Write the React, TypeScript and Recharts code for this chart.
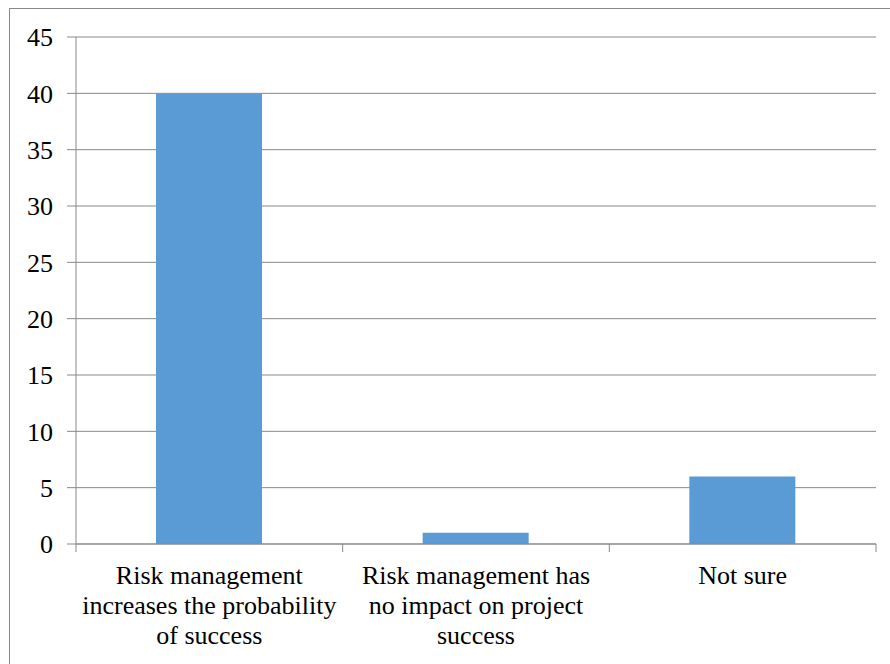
import {Bar, BarChart, CartesianGrid, XAxis, YAxis} from "recharts";
import {CSSProperties, FC} from "react";

// category labels, broken into the lines shown under the axis
const categoryLines = [
    ["Risk management", "increases the probability", "of success"],
    ["Risk management has", "no impact on project", "success"],
    ["Not sure"],
];
const categories = categoryLines.map(l => l.join(" "));
const responses = [40, 1, 6];
const yTicks = [0, 5, 10, 15, 20, 25, 30, 35, 40, 45];

const chartData = categories.map((name, i) => ({name, value: responses[i]}));

const W = 890;
const H = 664;
const margin = {top: 37, right: 14, left: 0, bottom: 0};
const xAxisHeight = 120;
const yAxisWidth = 76;
const bandWidth = (W - margin.left - margin.right - yAxisWidth) / categories.length;
const gray = "#898989";
const font = "'Liberation Serif', 'Times New Roman', serif";
const fontSize = 26;

const CategoryTick: FC<any> = ({x, y, index}) => {
    const half = bandWidth / 2;
    const lines = categoryLines[index] || [];
    return (
        <g>
            <line x1={x - half} x2={x - half} y1={y} y2={y + 8} stroke={gray}/>
            {index === categories.length - 1 &&
                <line x1={x + half} x2={x + half} y1={y} y2={y + 8} stroke={gray}/>}
            <text x={x} y={y} textAnchor="middle" fill="#000" style={{fontSize, fontFamily: font}}>
                {lines.map((line: string, i: number) => (
                    <tspan key={i} x={x} y={y + 40 + i * 30}>{line}</tspan>
                ))}
            </text>
        </g>
    );
};

const App: FC = () => {
    const styles: { [key: string]: CSSProperties } = {
        page: {position: "absolute", left: 0, top: 0, width: W, height: H, background: "#fff"},
        frame: {
            position: "absolute", left: 9, top: 8, right: 0, bottom: 0,
            borderTop: `1px solid ${gray}`, borderLeft: `1px solid ${gray}`,
        },
    };

    return (
        <div style={styles.page}>
            <div style={styles.frame}/>
            <BarChart width={W} height={H} data={chartData} margin={margin}
                      style={{position: "absolute", left: 0, top: 0}}>
                <CartesianGrid vertical={false} stroke={gray}/>
                <XAxis dataKey="name" stroke={gray} tickLine={false} tick={<CategoryTick/>}
                       tickSize={0} tickMargin={0} interval={0} height={xAxisHeight}/>
                <YAxis domain={[0, 45]} ticks={yTicks} width={yAxisWidth} stroke={gray}
                       tickSize={9} tickMargin={14}
                       tick={{fill: "#000", fontSize, fontFamily: font, style: {fontFamily: font}}}/>
                <Bar dataKey="value" fill="#5B9BD5" barSize={106} isAnimationActive={false}/>
            </BarChart>
        </div>
    );
};

export default App;
